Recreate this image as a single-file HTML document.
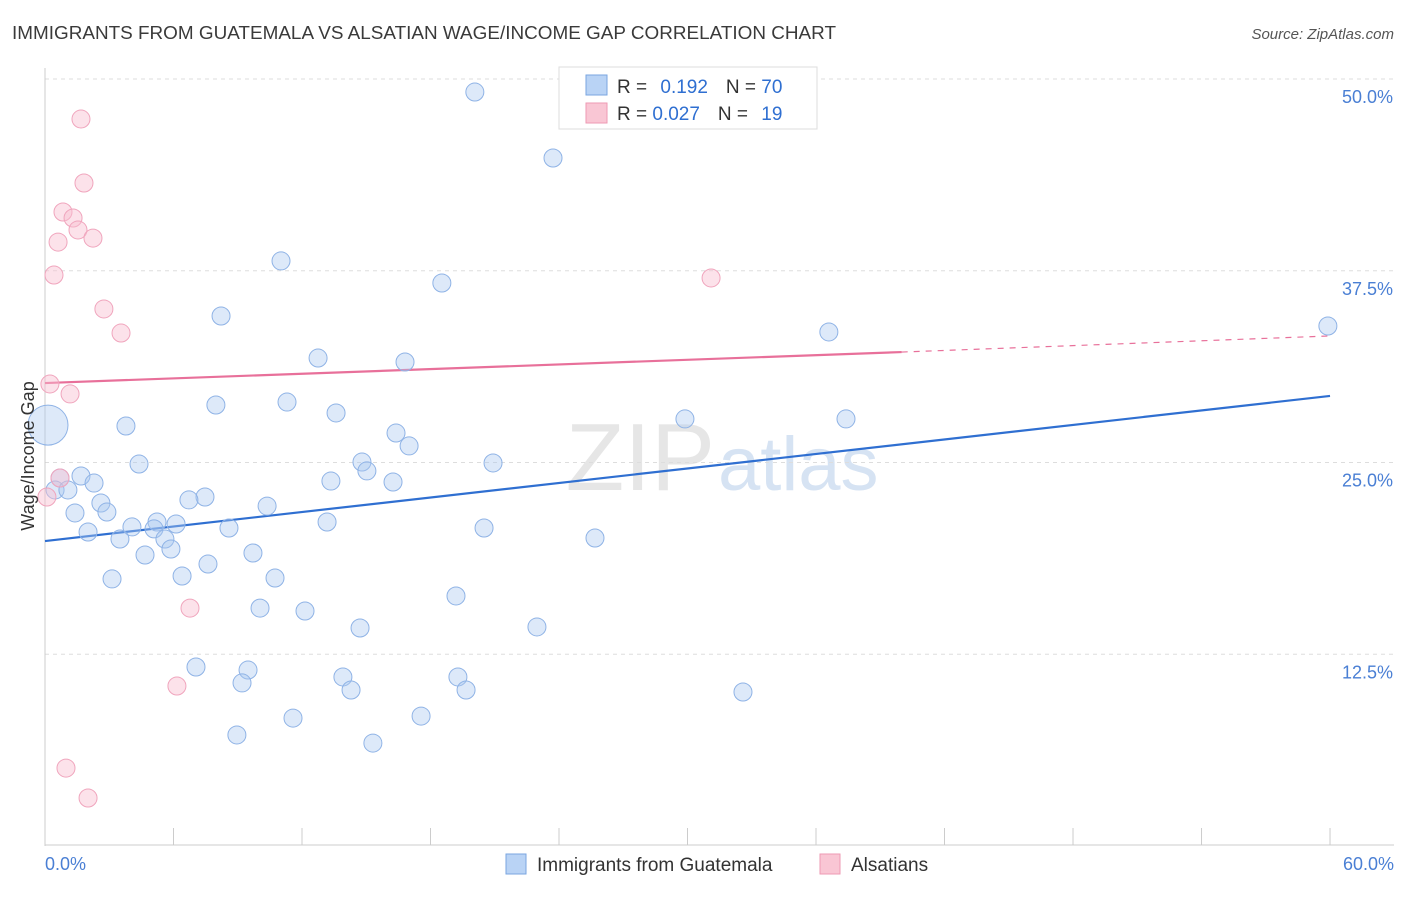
<!DOCTYPE html>
<html><head><meta charset="utf-8"><style>
body{margin:0;background:#fff;font-family:"Liberation Sans",sans-serif;}
svg text{font-family:"Liberation Sans",sans-serif;}
</style></head><body>
<svg id="chart" width="1406" height="892" xmlns="http://www.w3.org/2000/svg">
<text x="12" y="39" font-size="18" fill="#3a3a3a" textLength="824" lengthAdjust="spacingAndGlyphs">IMMIGRANTS FROM GUATEMALA VS ALSATIAN WAGE/INCOME GAP CORRELATION CHART</text>
<text x="1394" y="39" font-size="15" fill="#555" font-style="italic" text-anchor="end">Source: ZipAtlas.com</text>
<text x="715" y="490" font-size="96" fill="#e6e6e6" text-anchor="end" font-family="Liberation Serif">ZIP</text>
<text x="718" y="490" font-size="76" fill="#d6e3f3">atlas</text>
<g id="grid"></g>
<g id="axes"></g>
<g id="trend"></g>
<g id="points"></g>
<text x="34" y="456" font-size="18" fill="#333" text-anchor="middle" transform="rotate(-90 34 456)">Wage/Income Gap</text>
<text x="45" y="870" font-size="18" fill="#4a7fd4">0.0%</text>
<text x="1394" y="870" font-size="18" fill="#4a7fd4" text-anchor="end">60.0%</text>
<g>
<rect x="559" y="67" width="258" height="62" fill="#fff" stroke="#ddd"/>
<rect x="586" y="75" width="21" height="20" fill="#b9d3f5" stroke="#7aa6e0"/>
<rect x="586" y="103" width="21" height="20" fill="#f9c6d4" stroke="#ee9ab3"/>
<text x="617" y="93" font-size="19" fill="#333">R = <tspan fill="#2f6fd1" dx="8">0.192</tspan><tspan dx="18" fill="#333">N = </tspan><tspan fill="#2f6fd1">70</tspan></text>
<text x="617" y="120" font-size="19" fill="#333">R = <tspan fill="#2f6fd1">0.027</tspan><tspan dx="18" fill="#333">N = </tspan><tspan fill="#2f6fd1" dx="8">19</tspan></text>
</g>
<g>
<rect x="506" y="854" width="20" height="20" fill="#b9d3f5" stroke="#7aa6e0"/>
<text x="537" y="871" font-size="19" fill="#333">Immigrants from Guatemala</text>
<rect x="820" y="854" width="20" height="20" fill="#f9c6d4" stroke="#ee9ab3"/>
<text x="851" y="871" font-size="19" fill="#333">Alsatians</text>
</g>
</svg>
<script>
const yTicks=[12.5,25,37.5,50];
const yTickLabels=["12.5%","25.0%","37.5%","50.0%"];
const xTicks=[0,6,12,18,24,30,36,42,48,54,60];
const blueX=[20.07,23.72,11.02,18.53,8.22,36.6,59.9,12.75,16.81,7.98,11.3,13.59,29.88,37.4,3.78,16.39,17.0,4.39,14.8,15.03,20.92,0.7,1.68,13.35,16.25,2.29,0.47,1.07,7.47,6.72,2.61,10.37,1.4,2.89,5.23,13.17,4.06,6.12,5.09,8.59,20.5,2.01,3.5,5.6,25.68,5.88,4.67,9.71,7.61,6.4,3.13,10.74,19.19,10.04,12.14,14.71,22.97,7.05,9.48,13.91,19.28,9.2,14.29,19.66,32.59,11.58,17.56,8.96,15.31,0.14];
const blueY=[49.15,44.85,38.14,36.7,34.55,33.51,33.9,31.81,31.55,28.75,28.94,28.23,27.84,27.84,27.38,26.92,26.08,24.9,25.03,24.45,24.97,23.99,24.12,23.79,23.73,23.66,23.21,23.21,22.75,22.56,22.36,22.16,21.71,21.77,21.12,21.12,20.8,20.99,20.67,20.73,20.73,20.47,20.01,20.01,20.08,19.36,18.97,19.1,18.38,17.6,17.41,17.47,16.3,15.51,15.32,14.21,14.28,11.67,11.47,11.02,11.02,10.63,10.17,10.17,10.04,8.34,8.47,7.24,6.71,27.44];
const blueR=[9,9,9,9,9,9,9,9,9,9,9,9,9,9,9,9,9,9,9,9,9,9,9,9,9,9,9,9,9,9,9,9,9,9,9,9,9,9,9,9,9,9,9,9,9,9,9,9,9,9,9,9,9,9,9,9,9,9,9,9,9,9,9,9,9,9,9,9,9,20];
const pinkX=[1.68,1.82,0.84,1.31,0.61,1.54,2.24,0.42,31.1,2.75,3.55,0.23,1.17,0.09,6.77,6.16,0.98,2.01,0.7];
const pinkY=[47.39,43.22,41.33,40.94,39.37,40.16,39.63,37.22,37.03,35.01,33.44,30.12,29.47,22.75,15.51,10.43,5.08,3.13,23.99];
const blueTrend=[0,19.88,60,29.34];
const pinkTrend=[0,30.18,40,32.2,60,33.25];
const xs=v=>45+v*21.417, ys=v=>846-v*15.34;
const NS="http://www.w3.org/2000/svg";
function mk(t,a,p){const e=document.createElementNS(NS,t);for(const k in a)e.setAttribute(k,a[k]);document.getElementById(p).appendChild(e);return e;}
yTicks.forEach((v,i)=>{
 const l=mk('line',{x1:45,x2:1394,y1:ys(v),y2:ys(v),stroke:'#ddd','stroke-dasharray':'4,4'},'grid');
 
 
 const t=mk('text',{x:1393,y:ys(v)+24,'font-size':18,fill:'#4a7fd4','text-anchor':'end'},'grid');
 t.textContent=yTickLabels[i];
 
 
});
let a=mk('line',{x1:45,x2:45,y1:68,y2:846,stroke:'#ccc'},'axes');


a=mk('line',{x1:45,x2:1394,y1:845,y2:845,stroke:'#ccc'},'axes');


xTicks.forEach(v=>{
 const t=mk('line',{x1:xs(v),x2:xs(v),y1:828,y2:845,stroke:'#ccc'},'axes');
 
 
});
blueX.forEach((x,i)=>{
 const c=mk('circle',{cx:xs(x),cy:ys(blueY[i]),r:blueR[i],fill:'rgba(170,200,240,0.4)',stroke:'#8fb3e6','stroke-width':1},'points');
 
 
});
pinkX.forEach((x,i)=>{
 const c=mk('circle',{cx:xs(x),cy:ys(pinkY[i]),r:9,fill:'rgba(248,190,208,0.45)',stroke:'#f0a5bd','stroke-width':1},'points');
 
 
});
let tl=mk('line',{x1:xs(blueTrend[0]),y1:ys(blueTrend[1]),x2:xs(blueTrend[2]),y2:ys(blueTrend[3]),stroke:'#2f6fd1','stroke-width':2.2},'trend');


tl=mk('line',{x1:xs(pinkTrend[0]),y1:ys(pinkTrend[1]),x2:xs(pinkTrend[2]),y2:ys(pinkTrend[3]),stroke:'#e8709a','stroke-width':2.2},'trend');


tl=mk('line',{x1:xs(pinkTrend[2]),y1:ys(pinkTrend[3]),x2:xs(pinkTrend[4]),y2:ys(pinkTrend[5]),stroke:'#e8709a','stroke-width':1.2,'stroke-dasharray':'6,6'},'trend');


</script>
</body></html>
